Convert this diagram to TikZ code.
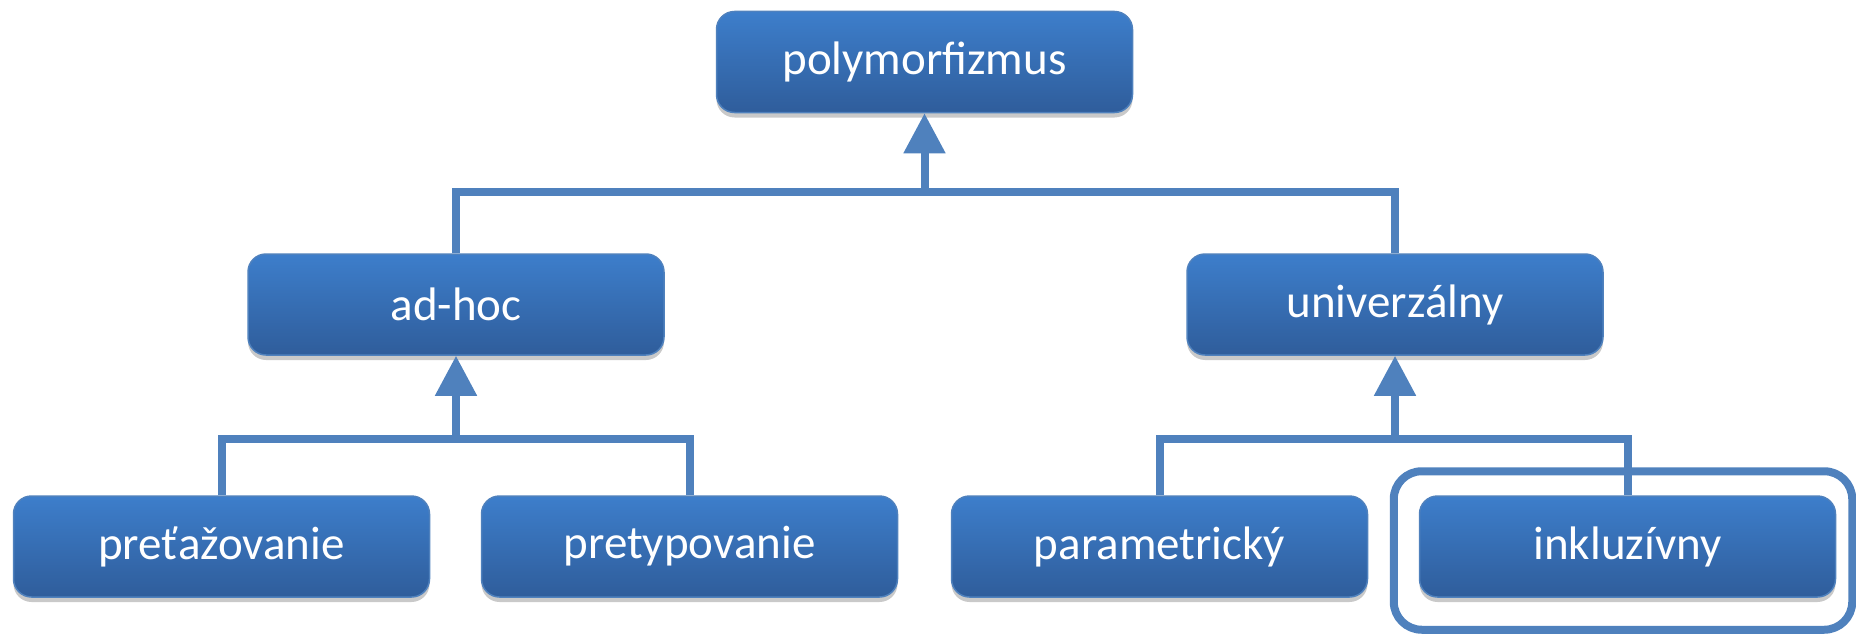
\documentclass[tikz,border=0pt]{standalone}
\usepackage{fontspec}
\setmainfont{Carlito}
\usetikzlibrary{arrows.meta,shadows}
\definecolor{lineblue}{RGB}{79,129,189}
\definecolor{boxtop}{RGB}{61,126,203}
\definecolor{boxbot}{RGB}{47,93,155}
\begin{document}
\begin{tikzpicture}[x=1pt,y=-1pt,
  box/.style={rounded corners=18pt, minimum width=416pt, minimum height=101pt, inner sep=0pt,
    top color=boxtop, bottom color=boxbot, draw=lineblue, line width=1.5pt,
    text=white, font=\fontsize{47}{56}\selectfont,
    drop shadow={shadow xshift=0pt, shadow yshift=-5pt, opacity=0.3, fill=black!70}},
  conn/.style={draw=lineblue, line width=8pt, line join=miter},
  arrowconn/.style={conn, -{Triangle[width=40pt,length=40pt]}},
  hlbox/.style={draw=lineblue, line width=8pt, rounded corners=28pt}
]
\useasboundingbox (0,0) rectangle (1856,634);

\node[box] (poly)  at (924.5,62)   {polymorfizmus};
\node[box] (adhoc) at (456,304.5)  {ad-hoc};
\node[box] (univ)  at (1395,304.5) {univerzálny};
\node[box] (pret)  at (221.5,546.5) {preťažovanie};
\node[box] (prety) at (689.5,546.5) {pretypovanie};
\node[box] (param) at (1159.5,546.5) {parametrický};
\node[box] (ink)   at (1627.5,546.5) {inkluzívny};

\coordinate (j1) at (924.5,192);
\coordinate (j2) at (456,439);
\coordinate (j3) at (1395,439);

\draw[conn] (adhoc.north) |- (j1) -| (univ.north);
\draw[arrowconn] (j1) -- (poly.south);

\draw[conn] (pret.north) |- (j2) -| (prety.north);
\draw[arrowconn] (j2) -- (adhoc.south);

\draw[conn] (param.north) |- (j3) -| (ink.north);
\draw[arrowconn] (j3) -- (univ.south);

\draw[hlbox] ([shift={(-25,-24)}]ink.north west) rectangle ([shift={(16,32)}]ink.south east);
\end{tikzpicture}
\end{document}
